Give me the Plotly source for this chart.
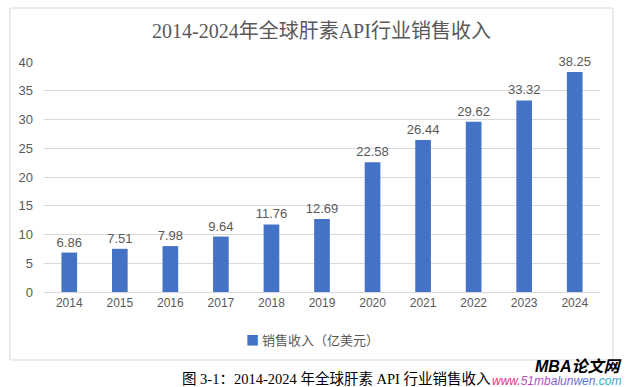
import plotly.graph_objects as go

years = ["2014", "2015", "2016", "2017", "2018", "2019", "2020", "2021", "2022", "2023", "2024"]
revenue = [6.86, 7.51, 7.98, 9.64, 11.76, 12.69, 22.58, 26.44, 29.62, 33.32, 38.25]
series_name = "销售收入（亿美元）"
title_text = "2014-2024年全球肝素API行业销售收入"
caption_text = "图 3-1：2014-2024 年全球肝素 API 行业销售收入"

W, H = 625, 387
L, R, T, B = 44, 25, 62, 95
pw, ph = W - L - R, H - T - B

def px(x):
    return (x - L) / pw

def py(y):
    return (H - B - y) / ph

fig = go.Figure()
fig.add_trace(go.Bar(
    x=years, y=revenue, name=series_name,
    marker=dict(color="#4472C4", line=dict(width=0)),
    text=[f"{v:.2f}" for v in revenue], textposition="outside",
    constraintext="none",
    textfont=dict(family="Liberation Sans, Arial, sans-serif", size=13, color="#595959"),
    cliponaxis=False, showlegend=False,
))

fig.update_layout(
    width=W, height=H,
    margin=dict(l=L, r=R, t=T, b=B),
    paper_bgcolor="white", plot_bgcolor="white",
    bargap=0.69,
    showlegend=False,
    xaxis=dict(type="category", showgrid=False, showline=True, linecolor="#d9d9d9", linewidth=1,
               ticks="", tickfont=dict(family="Liberation Sans, Arial, sans-serif", size=12, color="#595959")),
    yaxis=dict(range=[0, 40], dtick=5, showgrid=True, gridcolor="#d9d9d9", gridwidth=1,
               zeroline=False, showline=False, ticks="", ticklabelstandoff=10,
               tickfont=dict(family="Liberation Sans, Arial, sans-serif", size=13, color="#595959")),
    font=dict(family="Noto Sans CJK SC, sans-serif"),
)

fig.add_shape(type="rect", xref="paper", yref="paper",
              x0=px(10), x1=px(613), y0=py(360), y1=py(8),
              line=dict(color="#d9d9d9", width=1), fillcolor="rgba(0,0,0,0)", layer="below")

# legend (drawn as text)
fig.add_annotation(text=f"<span style='color:#4472C4'>■</span> {series_name}",
                   xref="paper", yref="paper", x=px(312), y=py(339),
                   xanchor="center", yanchor="middle", showarrow=False,
                   font=dict(family="Noto Sans CJK SC, sans-serif", size=13, color="#595959"))

fig.add_annotation(text=title_text, xref="paper", yref="paper", x=px(321), y=py(31),
                   xanchor="center", yanchor="middle", showarrow=False,
                   font=dict(family="Liberation Serif, Noto Sans CJK SC, serif", size=20, color="#595959"))

fig.add_annotation(text=caption_text, xref="paper", yref="paper", x=px(180), y=py(378),
                   xanchor="left", yanchor="middle", showarrow=False,
                   font=dict(family="Liberation Serif, Noto Sans CJK SC, serif", size=14.5, color="#000000"))

fig.add_annotation(text="<b><i>MBA论文网</i></b>", xref="paper", yref="paper", x=px(623), y=py(366),
                   xanchor="right", yanchor="middle", showarrow=False,
                   font=dict(family="Liberation Sans, Noto Sans CJK SC, sans-serif", size=16, color="#000000"))

fig.add_annotation(
    text="<i><span style='color:#e8308a'>www.</span><span style='color:#b04fbf'>51mb</span>"
         "<span style='color:#7a5fd0'>alun</span><span style='color:#5a78d8'>wen</span>"
         "<span style='color:#3aa8c8'>.com</span></i>",
    xref="paper", yref="paper", x=px(623), y=py(381),
    xanchor="right", yanchor="middle", showarrow=False,
    font=dict(family="Liberation Sans, sans-serif", size=12))

fig.write_html("out.html", config={"displayModeBar": False},
               post_script="document.body.style.margin='0';document.body.style.overflow='hidden';")
